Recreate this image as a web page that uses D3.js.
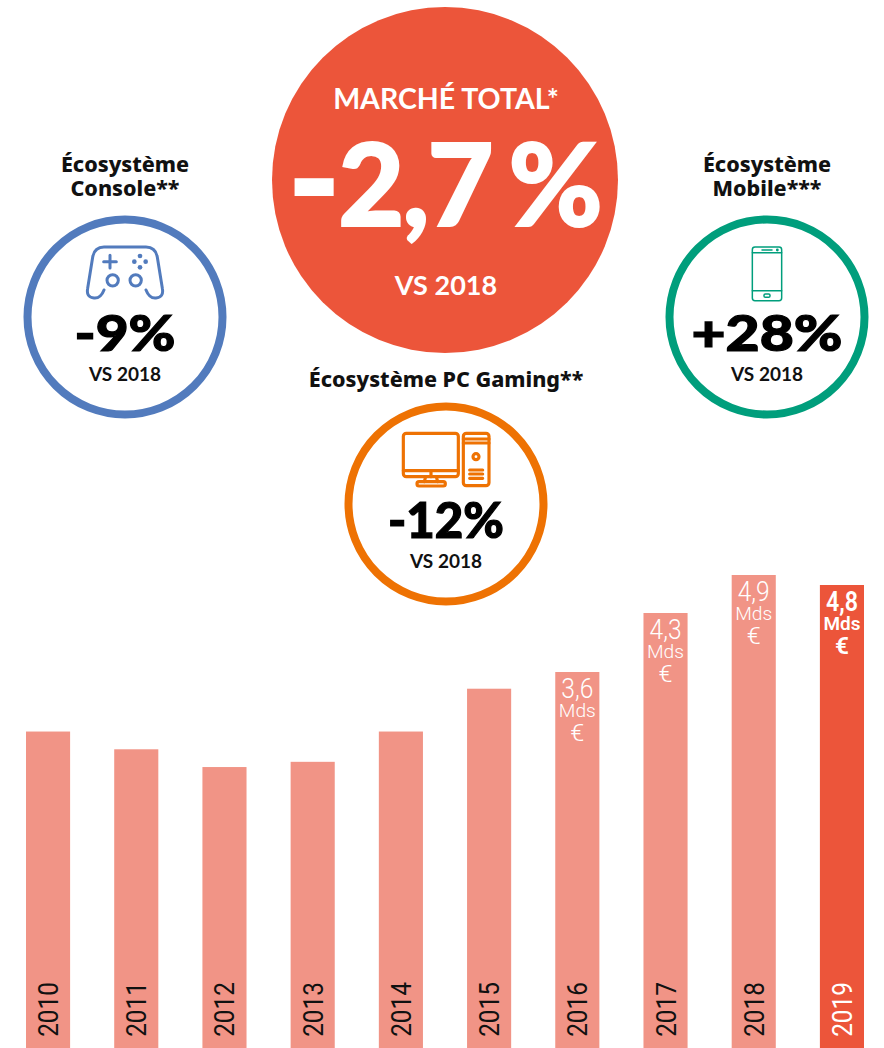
<!DOCTYPE html>
<html>
<head>
<meta charset="utf-8">
<script src="https://cdn.jsdelivr.net/npm/d3@7"></script>
<style>
  html, body { margin: 0; padding: 0; background: #fff; }
  svg { display: block; }
  text { text-anchor: middle; }
</style>
</head>
<body>
<svg id="chart" width="884" height="1048"></svg>
<script>
var years = ['2010','2011','2012','2013','2014','2015','2016','2017','2018','2019'];
// only the last four are printed on the picture, the others are estimated from bar height
var revenue = [3.03, 2.86, 2.69, 2.74, 3.03, 3.44, 3.6, 4.3, 4.9, 4.8];
var valueLabels = ['', '', '', '', '', '', '3,6', '4,3', '4,9', '4,8'];

var ecoNames = [['Écosystème', 'Console**'], ['Écosystème', 'Mobile***'], ['Écosystème PC Gaming**']];
var ecoChanges = ['-9%', '+28%', '-12%'];
var ecoColors = ['#527bbd', '#009e7c', '#ee7203'];

var red = '#ec553a', pink = '#f19486';
var titleFont = '"Noto Sans", sans-serif';
var numFont = 'Lato, sans-serif';
var barFont = 'Roboto, sans-serif';

var svg = d3.select('#chart');

// bars
var x = d3.scaleBand().domain(years).range([26, 864]).paddingInner(0.5).paddingOuter(0);
// the bars of the source are not quite proportional, so the scale goes through the printed values
var y = d3.scaleLinear().domain([0, 3.6, 4.3, 4.8, 4.9]).range([1048, 672, 613, 585, 575]);

var bar = svg.selectAll('g.bar')
    .data(years)
    .enter().append('g')
    .attr('class', 'bar')
    .attr('transform', function(d) { return 'translate(' + x(d) + ',0)'; });

bar.append('rect')
    .attr('y', function(d, i) { return y(revenue[i]); })
    .attr('width', x.bandwidth())
    .attr('height', function(d, i) { return 1048 - y(revenue[i]); })
    .style('fill', function(d) { return d === '2019' ? red : pink; });

// year labels
bar.append('text')
    .attr('transform', 'translate(' + (x.bandwidth() / 2 + 10) + ',1009.5) rotate(-90) scale(0.87,1)')
    .style('font-family', barFont)
    .style('font-size', '28px')
    .style('font-weight', 400)
    .style('fill', function(d) { return d === '2019' ? '#fff' : '#111'; })
    .text(function(d) { return d; });

// value labels
bar.each(function(d, i) {
  if (!valueLabels[i]) return;
  var g = d3.select(this), top = y(revenue[i]), bold = d === '2019' ? 600 : 300, cx = x.bandwidth() / 2;
  [[valueLabels[i], 26, 27, 32], ['Mds', 45, 19, 37], ['€', 69, 23, 14]].forEach(function(t) {
    g.append('text')
      .attr('x', cx)
      .attr('y', top + t[1])
      .attr('textLength', t[3])
      .attr('lengthAdjust', 'spacingAndGlyphs')
      .style('font-family', barFont)
      .style('font-size', t[2] + 'px')
      .style('font-weight', bold)
      .style('fill', '#fff')
      .text(t[0]);
  });
});

// main circle
svg.append('circle').attr('cx', 445).attr('cy', 180).attr('r', 173).style('fill', red);
svg.append('text').attr('x', 446).attr('y', 109)
    .style('font-family', numFont).style('font-size', '28.5px').style('font-weight', 700).style('fill', '#fff')
    .text('MARCHÉ TOTAL*');

var big = svg.append('text').attr('x', 288).attr('y', 226)
    .style('text-anchor', 'start')
    .style('font-family', numFont).style('font-size', '114px').style('font-weight', 900)
    .style('letter-spacing', '-2px').style('word-spacing', '-8px')
    .style('fill', '#fff').style('stroke', '#fff').style('stroke-width', 2);
big.append('tspan').attr('dy', 3).style('font-size', '140px').text('-');
big.append('tspan').attr('dy', -3).text('2,7 %');

svg.append('text').attr('x', 446).attr('y', 295)
    .style('font-family', numFont).style('font-size', '27px').style('font-weight', 700).style('fill', '#fff')
    .text('VS 2018');

// small circles
var cxs = [125, 767, 446], cys = [317, 317, 504], titleY = [172, 172, 387];
var changeWidths = [101, 151, 116];

ecoNames.forEach(function(name, i) {
  var g = svg.append('g');
  name.forEach(function(line, j) {
    g.append('text').attr('x', cxs[i]).attr('y', titleY[i] + j * 24)
      .style('font-family', titleFont).style('font-size', '21.5px').style('font-weight', 800).style('fill', '#111')
      .text(line);
  });
  g.append('circle').attr('cx', cxs[i]).attr('cy', cys[i]).attr('r', 97.5)
    .style('fill', '#fff').style('stroke', ecoColors[i]).style('stroke-width', 8);
  g.append('text').attr('x', cxs[i]).attr('y', cys[i] + 34)
    .attr('textLength', changeWidths[i]).attr('lengthAdjust', 'spacingAndGlyphs')
    .style('font-family', numFont).style('font-size', '50px').style('font-weight', 900)
    .style('fill', '#000').style('stroke', '#000').style('stroke-width', 1.2)
    .text(ecoChanges[i]);
  g.append('text').attr('x', cxs[i]).attr('y', cys[i] + 64)
    .style('font-family', numFont).style('font-size', '19px').style('font-weight', 700).style('fill', '#111')
    .text('VS 2018');
});

// icons, drawn at 3x in their own little groups
function icon(ox, oy, color, sw) {
  return svg.append('g')
    .attr('transform', 'translate(' + ox + ',' + oy + ') scale(' + 1 / 3 + ')')
    .style('fill', 'none').style('stroke', color).style('stroke-width', sw)
    .style('stroke-linecap', 'round').style('stroke-linejoin', 'round');
}

// gamepad
var pad = icon(80, 240, ecoColors[0], 9);
pad.append('path').attr('d', 'M72 150Q62 176 42 174Q18 172 23 145L38 52Q43 21 72 21L198 21Q227 21 232 52L247 145Q252 172 228 174Q208 176 198 150');
pad.append('circle').attr('cx', 98).attr('cy', 121).attr('r', 17);
pad.append('circle').attr('cx', 167).attr('cy', 121).attr('r', 17);
pad.append('path').attr('d', 'M90 46V84M71 65H109');
[[180, 48], [163, 65], [197, 65], [180, 82]].forEach(function(p) {
  pad.append('circle').attr('cx', p[0]).attr('cy', p[1]).attr('r', 7).style('fill', ecoColors[0]).style('stroke', 'none');
});

// desktop pc
var pc = icon(395, 425, ecoColors[2], 9.5);
pc.append('rect').attr('x', 25).attr('y', 25).attr('width', 165).attr('height', 130).attr('rx', 9);
pc.append('path').attr('d', 'M25 137H190M108 137V155M92 155L88 170M124 155L128 170');
pc.append('rect').attr('x', 66).attr('y', 170).attr('width', 85).attr('height', 13).attr('rx', 6);
pc.append('rect').attr('x', 205).attr('y', 25).attr('width', 77).attr('height', 157).attr('rx', 9);
pc.append('path').attr('d', 'M205 42H282M205 54H282M224 135H263M224 147H263M224 160H263');
pc.append('circle').attr('cx', 243).attr('cy', 95).attr('r', 9);

// phone
var phone = icon(740, 240, ecoColors[1], 4.5);
phone.append('rect').attr('x', 37).attr('y', 21).attr('width', 88).attr('height', 161).attr('rx', 8);
phone.append('path').attr('d', 'M37 38H125M37 152H125M66 30H96');
phone.append('circle').attr('cx', 112).attr('cy', 30).attr('r', 2);
phone.append('rect').attr('x', 72).attr('y', 162).attr('width', 18).attr('height', 10).attr('rx', 4);
</script>
</body>
</html>
